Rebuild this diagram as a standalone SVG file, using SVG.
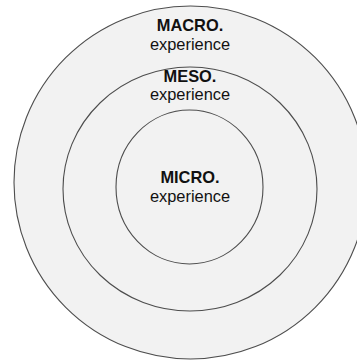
<svg xmlns="http://www.w3.org/2000/svg" width="357" height="360" viewBox="0 0 357 360">
<style>
.ring{fill:#f2f2f2;stroke:#4d4d4d;stroke-width:1.1}
.t{font-family:"Liberation Sans",Arial,sans-serif;font-size:16.4px;fill:#111;text-anchor:middle}
.b{font-weight:bold}
</style>
<rect width="357" height="360" fill="#ffffff"/>
<g id="macro">
<ellipse class="ring" cx="190.5" cy="182.5" rx="176.5" ry="176.5"/>
<text class="t b" x="190" y="31">MACRO.</text>
<text class="t" x="190" y="50">experience</text>
</g>
<g id="meso">
<ellipse class="ring" cx="190" cy="189" rx="127" ry="122"/>
<text class="t b" x="190" y="82">MESO.</text>
<text class="t" x="190" y="100">experience</text>
</g>
<g id="micro">
<ellipse class="ring" cx="189.5" cy="187" rx="73.5" ry="77"/>
<text class="t b" x="190" y="182.5">MICRO.</text>
<text class="t" x="190" y="202">experience</text>
</g>
<g id="connectors"/>
</svg>
